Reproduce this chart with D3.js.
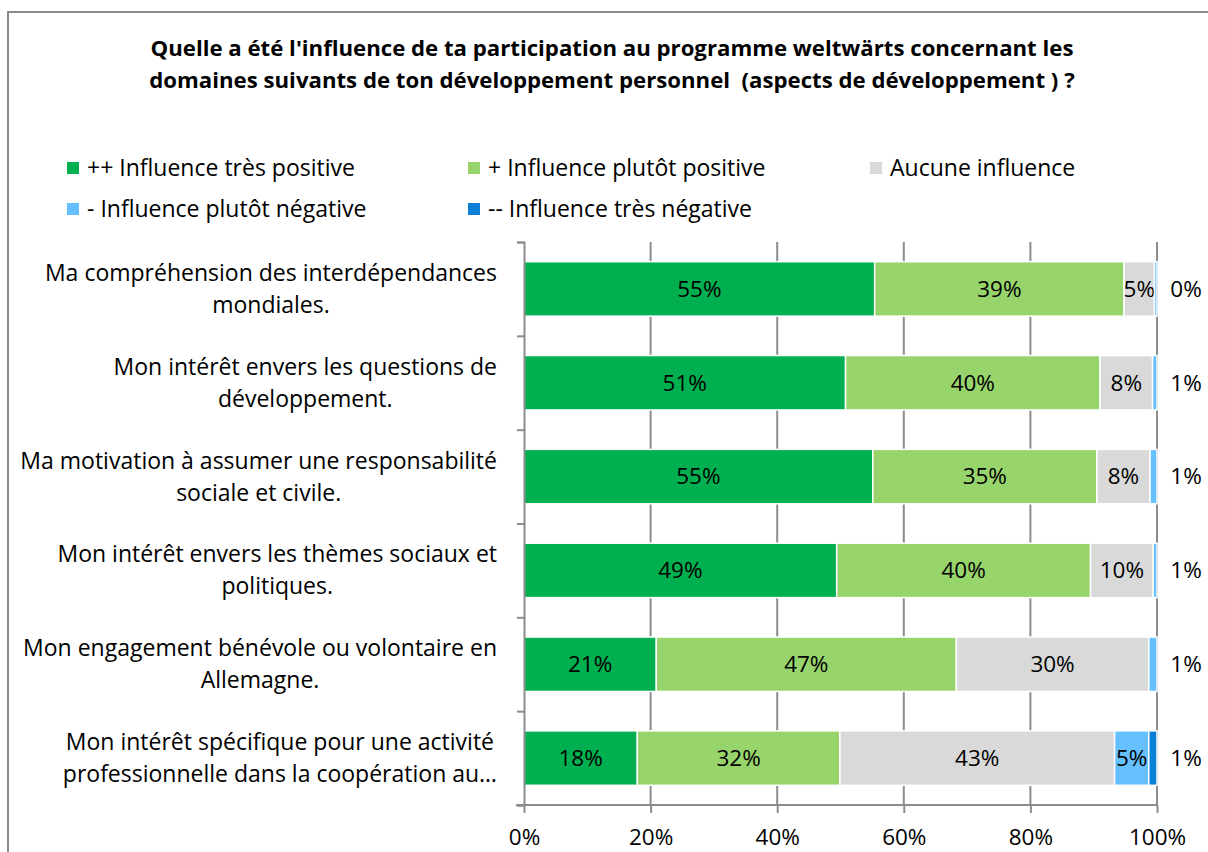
<!DOCTYPE html>
<meta charset="utf-8">
<style>
body { margin: 0; background: #fff; }
svg { font-family: "Open Sans", sans-serif; }
.grid line { stroke: #8c8c8c; stroke-width: 2; }
.axis path, .axis line { stroke: #8c8c8c; stroke-width: 2; }
.axis text { font-size: 22.5px; fill: #000; font-family: "Open Sans", sans-serif; }
</style>
<body>
<script src="https://cdn.jsdelivr.net/npm/d3@7"></script>
<script>

// categories (each label already broken into lines as in the picture)
var categories = [
  ["Ma compréhension des interdépendances", "mondiales."],
  ["Mon intérêt envers les questions de", "développement."],
  ["Ma motivation à assumer une responsabilité", "sociale et civile."],
  ["Mon intérêt envers les thèmes sociaux et", "politiques."],
  ["Mon engagement bénévole ou volontaire en", "Allemagne."],
  ["Mon intérêt spécifique pour une activité", "professionnelle dans la coopération au…"]
];

// series values, in percent
var tresPositive    = [55.4, 50.8, 55.1, 49.4, 20.9, 17.9];
var plutotPositive  = [39.4, 40.2, 35.4, 40.1, 47.4, 32.0];
var aucune          = [4.8,  8.3,  8.4,  9.9,  30.4, 43.4];
var plutotNegative  = [0.4,  0.7,  1.1,  0.6,  1.3,  5.4];
var tresNegative    = [0,    0,    0,    0,    0,    1.3];

var seriesNames = ["++ Influence très positive", "+ Influence plutôt positive", "Aucune influence",
                   "- Influence plutôt négative", "-- Influence très négative"];
var seriesColors = ["#00b050", "#98d46c", "#d9d9d9", "#66bfff", "#0a80d6"];
var xTicks = [0, 20, 40, 60, 80, 100];

var W = 1208, H = 852;
var margin = {top: 242, left: 524, right: 51, bottom: 47};
var width = W - margin.left - margin.right,
    height = H - margin.top - margin.bottom;

var svg = d3.select("body").append("svg")
    .attr("width", W).attr("height", H);

// chart frame
svg.append("rect")
    .attr("x", 8).attr("y", 12).attr("width", W).attr("height", H)
    .attr("fill", "none").attr("stroke", "#8c8c8c").attr("stroke-width", 2);

// title
var title = ["Quelle a été l'influence de ta participation au programme weltwärts concernant les",
             "domaines suivants de ton développement personnel  (aspects de développement ) ?"];
svg.append("text")
    .attr("x", 612).attr("y", 56)
    .attr("text-anchor", "middle")
    .style("font-size", "22.2px").style("font-weight", "bold")
    .selectAll("tspan").data(title).enter().append("tspan")
    .attr("x", 612).attr("dy", function(d, i) { return i ? 32 : 0; })
    .style("white-space", "pre")
    .text(function(d) { return d; });

// legend
var legendPos = [[67, 168], [468, 168], [870, 168], [67, 209], [468, 209]];
var lg = svg.selectAll(".legend").data(seriesNames).enter().append("g")
    .attr("class", "legend")
    .attr("transform", function(d, i) { return "translate(" + legendPos[i][0] + "," + legendPos[i][1] + ")"; });
lg.append("rect").attr("x", 0).attr("y", -6).attr("width", 12).attr("height", 12)
    .attr("fill", function(d, i) { return seriesColors[i]; });
lg.append("text").attr("x", 20).attr("dy", "0.35em")
    .style("font-size", "23px")
    .text(function(d) { return d; });

var g = svg.append("g").attr("transform", "translate(" + margin.left + "," + margin.top + ")");

var x = d3.scaleLinear().domain([0, 100]).range([0, width]);
var y = d3.scaleBand().domain(d3.range(categories.length)).range([0, height]).paddingInner(0.42).paddingOuter(0.21);

// gridlines
g.append("g").attr("class", "grid")
  .selectAll("line").data(xTicks.slice(1)).enter().append("line")
    .attr("x1", function(d) { return x(d); }).attr("x2", function(d) { return x(d); })
    .attr("y1", 0).attr("y2", height);

// stacked bars
var rows = categories.map(function(c, i) {
  return {i: i, v0: tresPositive[i], v1: plutotPositive[i], v2: aucune[i], v3: plutotNegative[i], v4: tresNegative[i]};
});
var stack = d3.stack().keys(["v0", "v1", "v2", "v3", "v4"])(rows);

var layers = g.selectAll(".layer").data(stack).enter().append("g")
    .attr("class", "layer")
    .attr("fill", function(d, k) { return seriesColors[k]; });

layers.selectAll("rect").data(function(d) { return d; }).enter().append("rect")
    .attr("x", function(d) { return x(d[0]); })
    .attr("y", function(d) { return y(d.data.i); })
    .attr("width", function(d) { return Math.max(0, x(d[1]) - x(d[0])); })
    .attr("height", y.bandwidth())
    .attr("stroke", "#fff").attr("stroke-width", 1.5);

// labels inside segments wide enough
layers.selectAll("text").data(function(d) { return d; }).enter()
  .filter(function(d) { return d[1] - d[0] >= 3; })
  .append("text")
    .attr("x", function(d) { return (x(d[0]) + x(d[1])) / 2; })
    .attr("y", function(d) { return y(d.data.i) + y.bandwidth() / 2; })
    .attr("dy", "0.35em").attr("text-anchor", "middle")
    .attr("fill", "#000").style("font-size", "22.5px")
    .text(function(d) { return Math.round(d[1] - d[0]) + "%"; });

// outside label: the last small negative segment
g.selectAll(".outLabel").data(rows).enter().append("text")
    .attr("class", "outLabel")
    .attr("x", width + 29)
    .attr("y", function(d) { return y(d.i) + y.bandwidth() / 2; })
    .attr("dy", "0.35em").attr("text-anchor", "middle")
    .style("font-size", "22.5px")
    .text(function(d) { return Math.round(d.v4 > 0 ? d.v4 : d.v3) + "%"; });

// y axis
g.append("g").attr("class", "axis")
    .call(d3.axisLeft(d3.scaleLinear().domain([0, categories.length]).range([0, height]))
      .ticks(categories.length).tickSize(7).tickSizeOuter(7).tickFormat(""));

// category labels (centred lines, block right-aligned)
var catG = g.selectAll(".cat").data(categories).enter().append("text")
    .attr("class", "cat")
    .attr("text-anchor", "middle")
    .style("font-size", "23px");
catG.selectAll("tspan").data(function(d) { return d; }).enter().append("tspan")
    .text(function(d) { return d; });
catG.each(function(d, i) {
  var t = d3.select(this);
  var maxW = d3.max(t.selectAll("tspan").nodes(), function(n) { return n.getComputedTextLength(); });
  var cx = -27 - maxW / 2;
  var cy = y(i) + y.bandwidth() / 2;
  t.selectAll("tspan")
    .attr("x", cx)
    .attr("y", function(s, j) { return cy + (j - 0.5) * 32; })
    .attr("dy", "0.35em");
});

// x axis
g.append("g").attr("class", "axis")
    .attr("transform", "translate(0," + height + ")")
    .call(d3.axisBottom(x).tickValues(xTicks).tickSize(8).tickSizeOuter(0)
      .tickFormat(function(d) { return d + "%"; }))
  .call(function(a) {
    a.selectAll("text").attr("dy", "1.3em");
    a.select(".domain").attr("d", "M-8,0H" + width);
  });

</script>
</body>
